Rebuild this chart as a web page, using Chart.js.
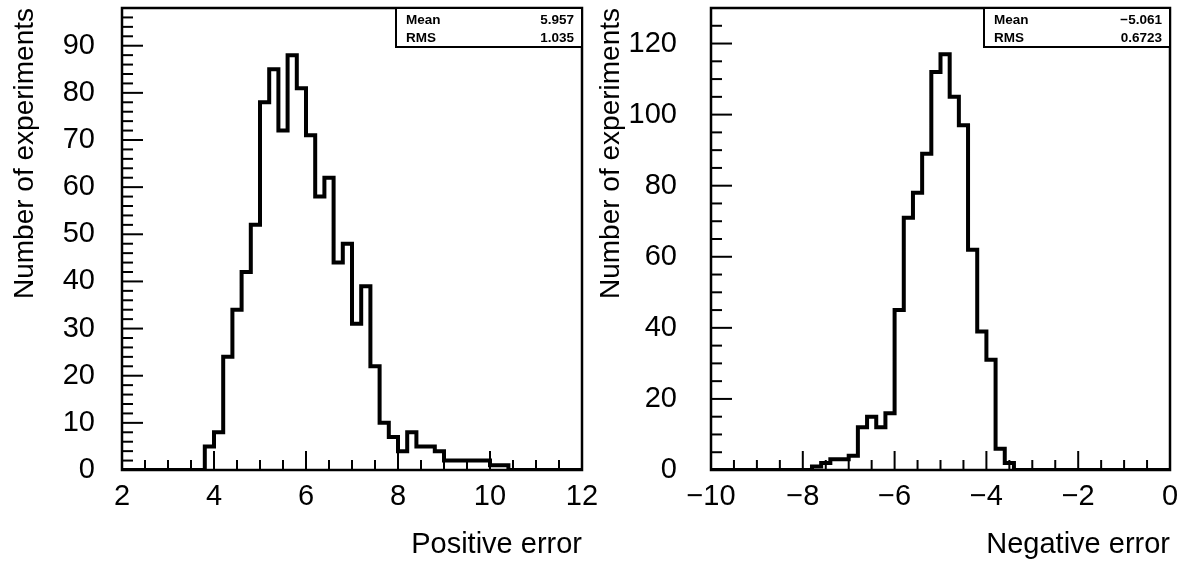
<!DOCTYPE html>
<html>
<head>
<meta charset="utf-8">
<script src="https://cdn.jsdelivr.net/npm/chart.js@4.4.1/dist/chart.umd.min.js"></script>
<style>
  html, body { margin: 0; padding: 0; background: #fff; }
  #wrap { position: relative; width: 1186px; height: 561px; overflow: hidden; background: #fff; }
  canvas { position: absolute; top: 0; }
  #posCanvas { left: 0; z-index: 2; }
  #negCanvas { left: 593px; z-index: 1; }
</style>
</head>
<body>
<div id="wrap">
  <canvas id="posCanvas" width="605" height="561"></canvas>
  <canvas id="negCanvas" width="593" height="561"></canvas>
</div>
<script>
// ---- Positive error: 50 bins of width 0.2 from 2 to 12 ----
const posLow = 2;
const posHigh = 12;
const posBinWidth = 0.2;
const posCounts = [
  0, 0, 0, 0, 0, 0, 0, 0, 0, 5,
  8, 24, 34, 42, 52, 78, 85, 72, 88, 81,
  71, 58, 62, 44, 48, 31, 39, 22, 10, 7,
  4, 8, 5, 5, 4, 2, 2, 2, 2, 2,
  1, 1, 0, 0, 0, 0, 0, 0, 0, 0
];
const posXMajor = [2, 4, 6, 8, 10, 12];
const posXLabels = ['2', '4', '6', '8', '10', '12'];
const posYMajor = [0, 10, 20, 30, 40, 50, 60, 70, 80, 90];
const posYLabels = ['0', '10', '20', '30', '40', '50', '60', '70', '80', '90'];
const posYMax = 98;
const posStatNames = ['Mean', 'RMS'];
const posStatValues = ['5.957', '1.035'];

// ---- Negative error: 50 bins of width 0.2 from -10 to 0 ----
const negLow = -10;
const negHigh = 0;
const negBinWidth = 0.2;
const negCounts = [
  0, 0, 0, 0, 0, 0, 0, 0, 0, 0,
  0, 1, 2, 3, 3, 4, 12, 15, 12, 16,
  45, 71, 78, 89, 112, 117, 105, 97, 62, 39,
  31, 6, 2, 0, 0, 0, 0, 0, 0, 0,
  0, 0, 0, 0, 0, 0, 0, 0, 0, 0
];
const negXMajor = [-10, -8, -6, -4, -2, 0];
const negXLabels = ['\u221210', '\u22128', '\u22126', '\u22124', '\u22122', '0'];
const negYMajor = [0, 20, 40, 60, 80, 100, 120];
const negYLabels = ['0', '20', '40', '60', '80', '100', '120'];
const negYMax = 130;
const negStatNames = ['Mean', 'RMS'];
const negStatValues = ['\u22125.061', '0.6723'];

const FONT = "'Liberation Sans', Arial, sans-serif";

// Turn bin counts into step-outline points at the bin low edges,
// closed back to zero at the upper edge of the last bin.
function outlinePoints(low, width, counts) {
  const pts = counts.map((c, i) => ({ x: low + i * width, y: c }));
  pts.push({ x: low + counts.length * width, y: 0 });
  return pts;
}

function labelFor(majors, labels) {
  return (value) => {
    const i = majors.findIndex(m => Math.abs(m - value) < 1e-9);
    return i >= 0 ? labels[i] : '';
  };
}

function isMajor(majors, value) {
  return majors.some(m => Math.abs(m - value) < 1e-9);
}

// Frame, inward tick marks and the statistics box.
const framePlugin = {
  id: 'frameTicks',
  afterDatasetsDraw(chart, args, opts) {
    const { ctx, chartArea: a, scales: { x, y } } = chart;
    ctx.save();
    ctx.strokeStyle = '#000';
    ctx.lineCap = 'butt';

    ctx.lineWidth = 2;
    x.ticks.forEach(t => {
      const px = x.getPixelForValue(t.value);
      const len = isMajor(opts.xMajor, t.value) ? 19 : 10;
      ctx.beginPath();
      ctx.moveTo(px, a.bottom);
      ctx.lineTo(px, a.bottom - len);
      ctx.stroke();
    });
    y.ticks.forEach(t => {
      const py = y.getPixelForValue(t.value);
      const len = isMajor(opts.yMajor, t.value) ? 21 : 11;
      ctx.beginPath();
      ctx.moveTo(a.left, py);
      ctx.lineTo(a.left + len, py);
      ctx.stroke();
    });

    ctx.lineWidth = 2.5;
    ctx.strokeRect(a.left, a.top, a.right - a.left, a.bottom - a.top);

    // statistics box in the upper right corner
    const bw = 186, bh = 39;
    const bx = a.right - bw, by = a.top;
    ctx.fillStyle = '#fff';
    ctx.fillRect(bx, by, bw, bh);
    ctx.lineWidth = 2;
    ctx.strokeRect(bx, by, bw, bh);
    ctx.fillStyle = '#000';
    ctx.font = 'bold 13.5px ' + FONT;
    ctx.textBaseline = 'middle';
    opts.statNames.forEach((name, i) => {
      const ty = by + 12 + i * 18;
      ctx.textAlign = 'left';
      ctx.fillText(name, bx + 10, ty);
      ctx.textAlign = 'right';
      ctx.fillText(opts.statValues[i], bx + bw - 8, ty);
    });
    ctx.restore();
  }
};

function makeHistogram(canvasId, h) {
  return new Chart(document.getElementById(canvasId), {
    type: 'line',
    data: {
      datasets: [{
        data: outlinePoints(h.low, h.width, h.counts),
        stepped: 'before',
        borderColor: '#000',
        borderWidth: 4,
        borderJoinStyle: 'miter',
        pointRadius: 0,
        fill: false,
        tension: 0
      }]
    },
    options: {
      responsive: false,
      animation: false,
      devicePixelRatio: 1,
      layout: { padding: { left: 0, top: 8, right: h.padRight, bottom: 0 } },
      plugins: {
        legend: { display: false },
        tooltip: { enabled: false },
        frameTicks: {
          xMajor: h.xMajor, yMajor: h.yMajor,
          statNames: h.statNames, statValues: h.statValues
        }
      },
      scales: {
        x: {
          type: 'linear',
          min: h.low,
          max: h.high,
          grid: { display: false, drawTicks: false },
          border: { display: false },
          ticks: {
            stepSize: h.xMinor,
            autoSkip: false,
            maxRotation: 0,
            minRotation: 0,
            padding: 10,
            color: '#000',
            font: { family: FONT, size: 29 },
            callback: labelFor(h.xMajor, h.xLabels)
          },
          title: {
            display: true,
            text: h.xTitle,
            align: 'end',
            color: '#000',
            font: { family: FONT, size: 29, lineHeight: 1.0 },
            padding: { top: 0, bottom: 2 }
          },
          afterFit: (s) => { s.height = 91; s.paddingLeft = 0; s.paddingRight = 0; }
        },
        y: {
          type: 'linear',
          min: 0,
          max: h.yMax,
          grid: { display: false, drawTicks: false },
          border: { display: false },
          ticks: {
            stepSize: h.yMinor,
            autoSkip: false,
            padding: h.yTickPad,
            color: '#000',
            font: { family: FONT, size: 29 },
            callback: labelFor(h.yMajor, h.yLabels)
          },
          title: {
            display: true,
            text: 'Number of experiments',
            align: 'end',
            color: '#000',
            font: { family: FONT, size: 28, lineHeight: 1.2 },
            padding: { top: h.yTitlePad, bottom: 0 }
          },
          afterFit: (s) => { s.width = h.yWidth; s.paddingTop = 0; s.paddingBottom = 0; }
        }
      }
    },
    plugins: [framePlugin]
  });
}

makeHistogram('posCanvas', {
  low: posLow, high: posHigh, width: posBinWidth, counts: posCounts,
  xMajor: posXMajor, xLabels: posXLabels, xMinor: 0.5,
  yMajor: posYMajor, yLabels: posYLabels, yMinor: 2, yMax: posYMax,
  xTitle: 'Positive error',
  statNames: posStatNames, statValues: posStatValues,
  yWidth: 122, padRight: 23, yTickPad: 27, yTitlePad: 8
});

makeHistogram('negCanvas', {
  low: negLow, high: negHigh, width: negBinWidth, counts: negCounts,
  xMajor: negXMajor, xLabels: negXLabels, xMinor: 0.5,
  yMajor: negYMajor, yLabels: negYLabels, yMinor: 5, yMax: negYMax,
  xTitle: 'Negative error',
  statNames: negStatNames, statValues: negStatValues,
  yWidth: 118, padRight: 16, yTickPad: 34, yTitlePad: 1
});
</script>
</body>
</html>
